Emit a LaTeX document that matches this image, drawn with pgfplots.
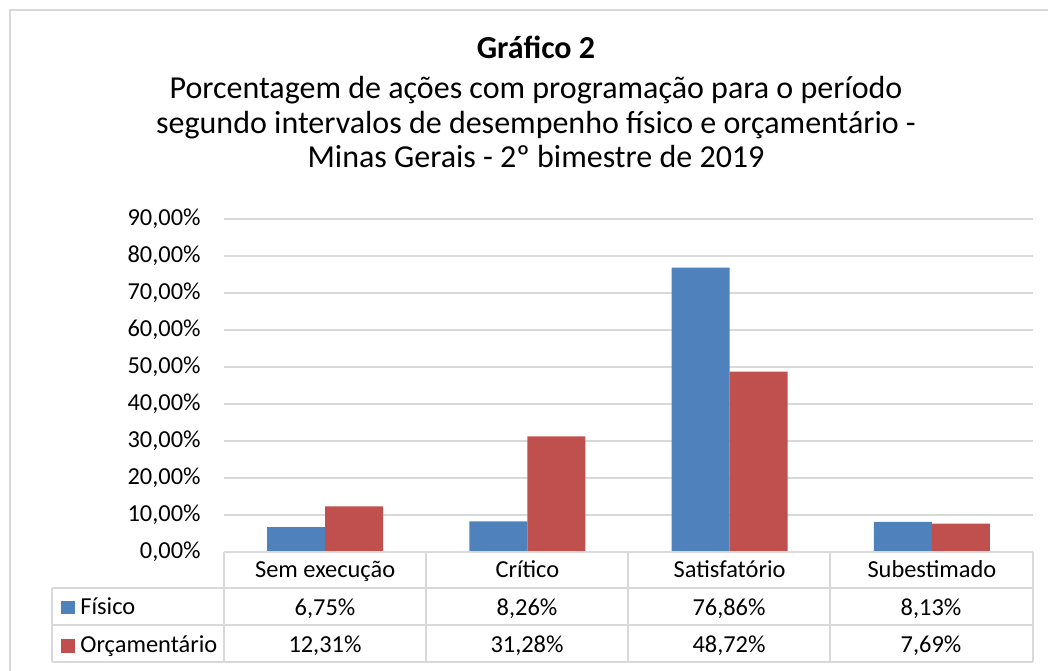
\documentclass[border=0pt]{standalone}
\usepackage{pgfplots}
\pgfplotsset{compat=1.18}
\usepackage{pgfplotstable}
\usepackage{fontspec}
\setmainfont{Carlito}
\definecolor{cblue}{HTML}{4F81BD}
\definecolor{cred}{HTML}{C0504D}
\definecolor{cgrid}{HTML}{D9D9D9}

\pgfplotstableread{
x fis orc
0 6.75 12.31
1 8.26 31.28
2 76.86 48.72
3 8.13 7.69
}\data

\begin{document}
\begin{tikzpicture}[x=0.5pt,y=0.5pt,font=\fontsize{12.2}{14}\selectfont]
\useasboundingbox (0,0) rectangle (1048,670);
\draw[cgrid, line width=1pt] (10,-30) -- (10,660) -- (1100,660);
\node[font=\fontsize{16}{19}\selectfont\bfseries, anchor=base, inner sep=0pt] at (536,611) {Gráfico 2};
\node[font=\fontsize{16}{19}\selectfont, anchor=base, inner sep=0pt] at (536,571) {Porcentagem de ações com programação para o período};
\node[font=\fontsize{16}{19}\selectfont, anchor=base, inner sep=0pt] at (536,536) {segundo intervalos de desempenho físico e orçamentário -};
\node[font=\fontsize{16}{19}\selectfont, anchor=base, inner sep=0pt] at (536,502) {Minas Gerais - 2º bimestre de 2019};
\begin{axis}[at={(112pt,59pt)}, anchor=south west, scale only axis,
  width=404.5pt, height=166.5pt,
  xmin=-0.5, xmax=3.5, ymin=0, ymax=90,
  ytick={0,10,...,90}, xtick={0,1,2,3},
  xticklabels={Sem execução, Crítico, Satisfatório, Subestimado},
  ybar=0pt, bar width=29pt,
  ymajorgrids, grid style={cgrid, line width=0.8pt},
  axis line style={draw=none}, major tick length=0pt,
  tick label style={font=\fontsize{12.2}{14}\selectfont},
  /pgf/number format/assume math mode=true,
  yticklabel={\pgfmathprintnumber[fixed,fixed zerofill,precision=2,use comma]{\tick}\%},
  yticklabel style={anchor=east, inner sep=0pt, xshift=-11.5pt},
  xticklabel style={anchor=base, inner sep=0pt, yshift=-12.5pt},
  clip=false]
\addplot[fill=cblue, draw=none] table[x=x,y=fis]{\data};
\addplot[fill=cred, draw=none] table[x=x,y=orc]{\data};
\end{axis}
\draw[cgrid, line width=1pt] (224,118) -- (1033,118);
\foreach \yy in {82,45,8} {\draw[cgrid, line width=1pt] (52,\yy) -- (1033,\yy);}
\foreach \xx in {224,426,628,830,1033} {\draw[cgrid, line width=1pt] (\xx,118) -- (\xx,8);}
\draw[cgrid, line width=1pt] (52,82) -- (52,8);
\fill[cblue] (61,69) rectangle (75,56);
\fill[cred] (61,31) rectangle (75,17);
\node[anchor=base west, inner sep=0pt] at (80,56) {Físico};
\node[anchor=base west, inner sep=0pt] at (80,18) {Orçamentário};
\foreach \i in {0,1,2,3} {
  \pgfmathsetmacro\xx{325+202*\i}
  \pgfplotstablegetelem{\i}{fis}\of\data
  \node[anchor=base, inner sep=0pt] at (\xx,55) {\pgfmathprintnumber[assume math mode=true,fixed,fixed zerofill,precision=2,use comma]{\pgfplotsretval}\%};
  \pgfplotstablegetelem{\i}{orc}\of\data
  \node[anchor=base, inner sep=0pt] at (\xx,18) {\pgfmathprintnumber[assume math mode=true,fixed,fixed zerofill,precision=2,use comma]{\pgfplotsretval}\%};
}
\end{tikzpicture}
\end{document}
